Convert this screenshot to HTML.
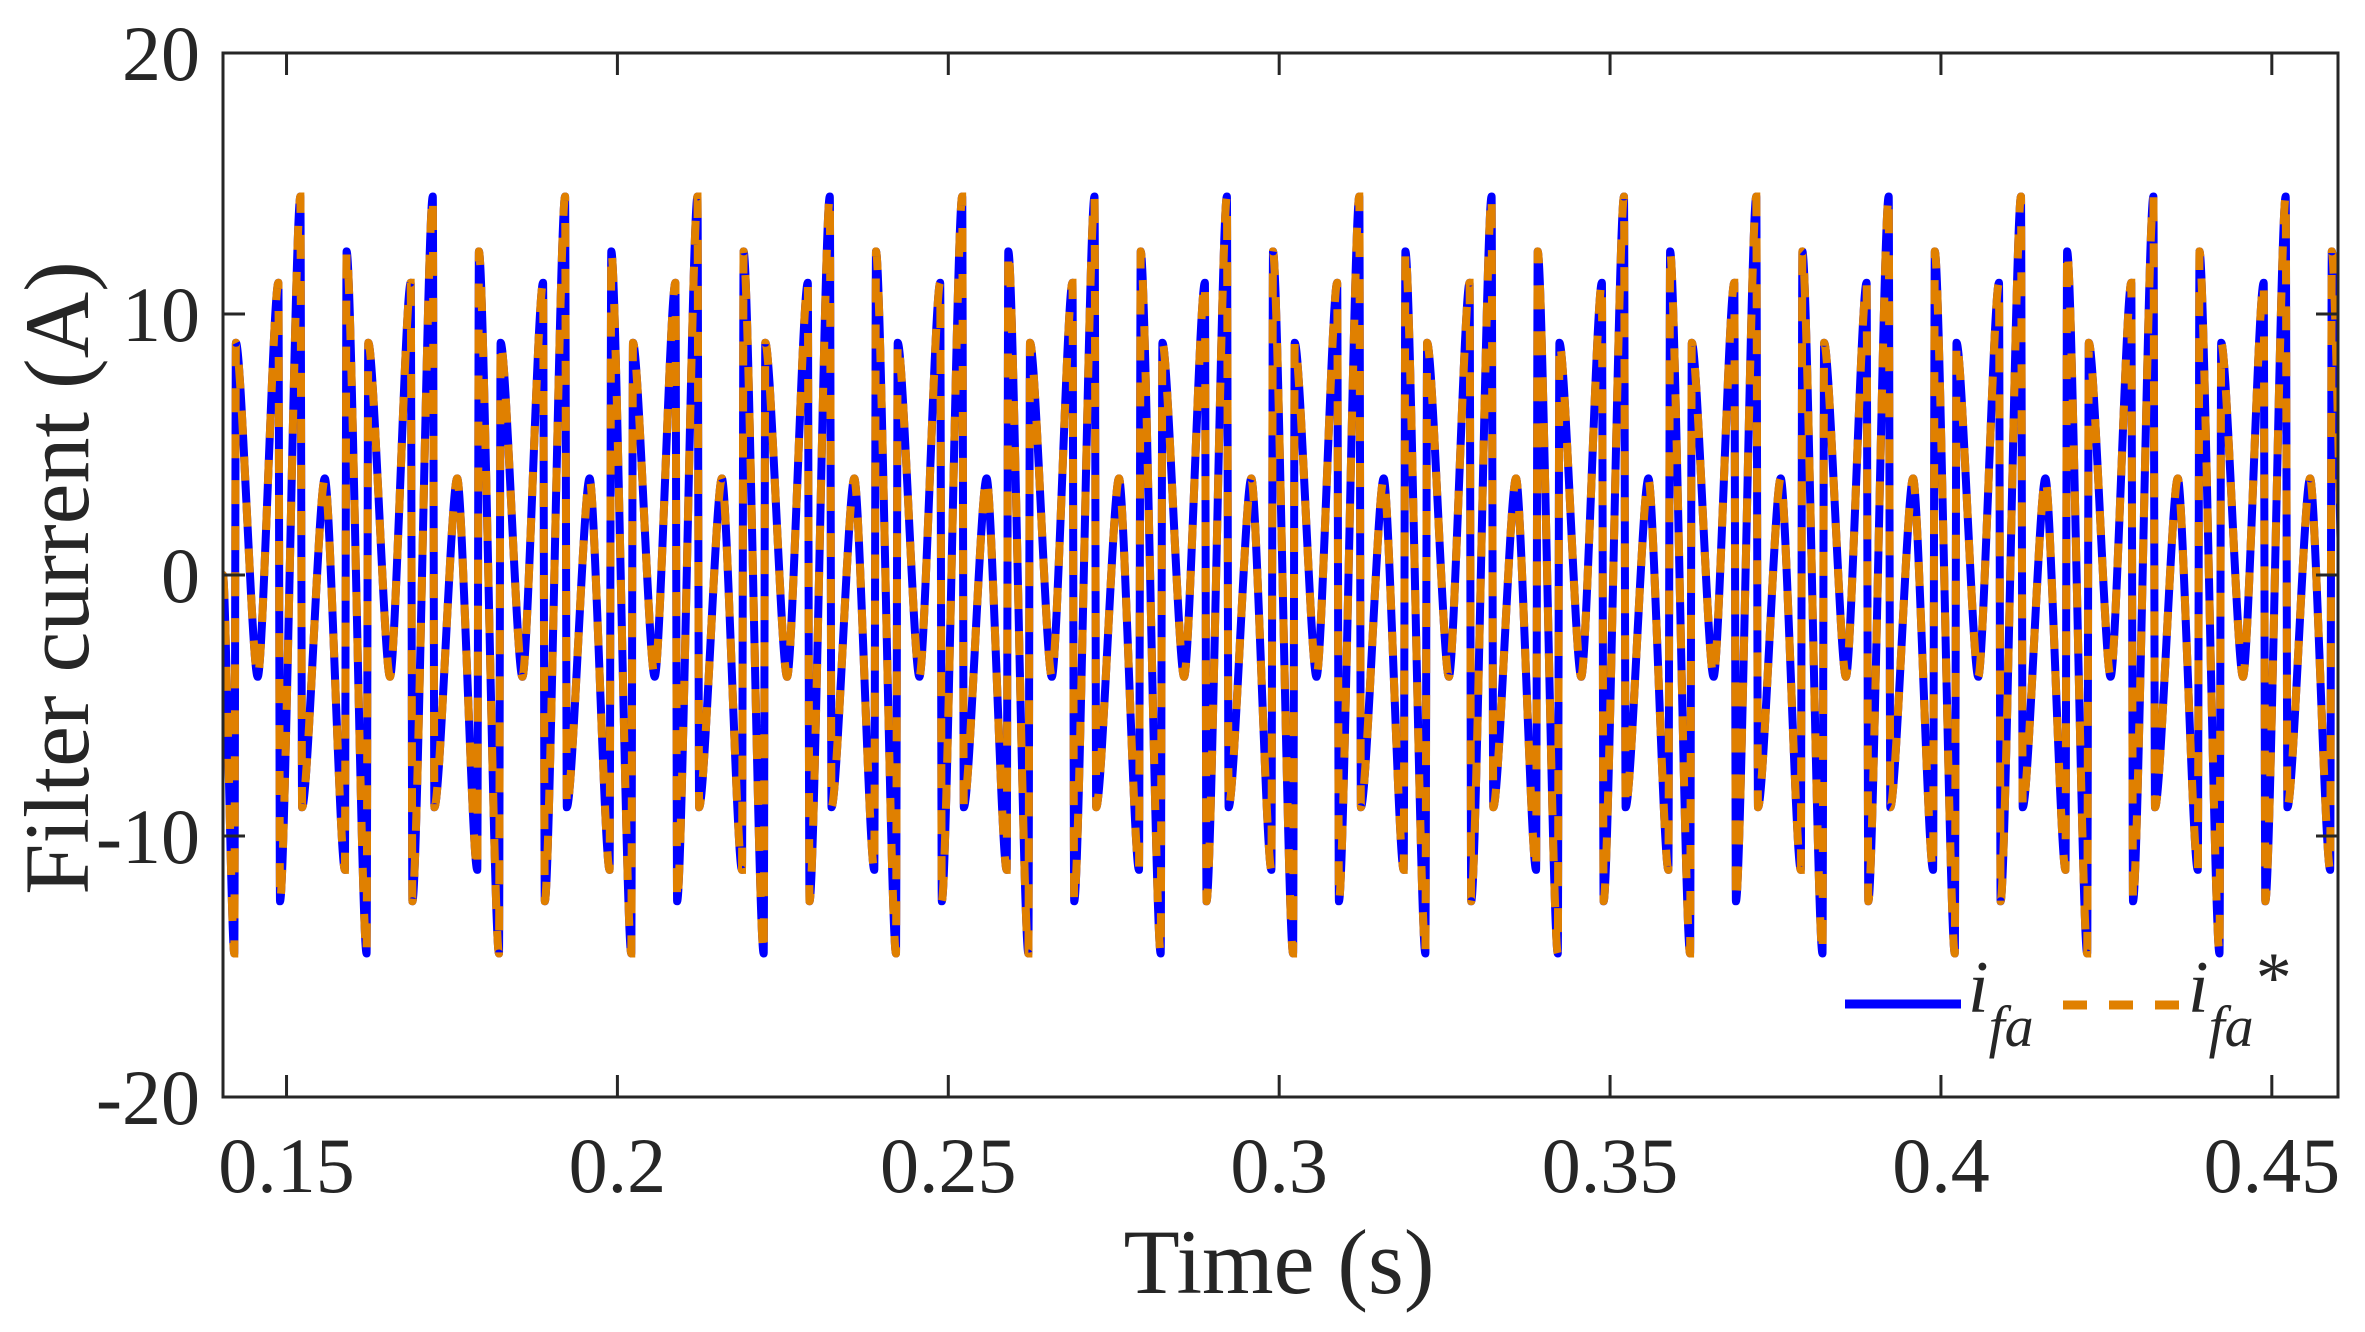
<!DOCTYPE html>
<html><head><meta charset="utf-8"><style>
html,body{margin:0;padding:0;background:#fff;}
svg{display:block;}
text{font-family:"Liberation Serif",serif;fill:#262626;}
</style></head><body>
<svg id="chart" width="2365" height="1332" viewBox="0 0 2365 1332" xmlns="http://www.w3.org/2000/svg">
<g id="plot"></g>
<g id="axes"></g>
<g id="legend">
  <line x1="1845" y1="1004" x2="1961" y2="1004" stroke="#0000ff" stroke-width="9"/>
  <text x="1968" y="1012" font-size="74" font-style="italic" fill="#000">i<tspan font-size="58" dy="34">fa</tspan></text>
  <line x1="2063" y1="1005" x2="2183" y2="1005" stroke="#e08000" stroke-width="9" stroke-dasharray="24,22"/>
  <text x="2188" y="1012" font-size="74" font-style="italic" fill="#000">i<tspan font-size="58" dy="34">fa</tspan><tspan font-style="normal" font-size="72" dy="-44" dx="2">*</tspan></text>
</g>
<text x="1279" y="1293" font-size="92" text-anchor="middle">Time (s)</text>
<text transform="translate(88,578) rotate(-90)" font-size="92" text-anchor="middle">Filter current (A)</text>
</svg>
<script>
// Data
const xTicks = [0.15, 0.2, 0.25, 0.3, 0.35, 0.4, 0.45];
const xTickLabels = ["0.15", "0.2", "0.25", "0.3", "0.35", "0.4", "0.45"];
const yTicks = [20, 10, 0, -10, -20];
const yTickLabels = ["20", "10", "0", "-10", "-20"];
// one 20 ms cycle of extrema: time offset (s) from first peak, value (A)
const cycleOffsets = [0, 0.00025, 0.00369, 0.00672, 0.00697, 0.01, 0.01025, 0.01354, 0.01667, 0.01692];
const cycleValues = [14.5, -8.9, 3.7, -11.3, 12.4, -14.5, 8.9, -3.9, 11.2, -12.5];
const startTime = 0.1404, startValue = 0;
const firstPeak = 0.1521, period = 0.02, endTime = 0.46;

const X0 = 223, X1 = 2338, Y0 = 53, Y1 = 1097;
const xMin = 0.1404, xMax = 0.46, yMin = -20, yMax = 20;
const sx = t => X0 + (t - xMin) / (xMax - xMin) * (X1 - X0);
const sy = v => Y1 - (v - yMin) / (yMax - yMin) * (Y1 - Y0);
const NS = "http://www.w3.org/2000/svg";

const pts = [[startTime, startValue]];
for (let k = -1; k < 20; k++) {
  for (let i = 0; i < cycleOffsets.length; i++) {
    const t = firstPeak + k * period + cycleOffsets[i];
    if (t > startTime && t < endTime + 0.003) pts.push([t, cycleValues[i]]);
  }
}
let d = "";
pts.forEach((p, i) => {
  const x = sx(p[0]), y = sy(p[1]);
  if (i === 0) { d += "M" + x.toFixed(1) + "," + y.toFixed(1); return; }
  const px = sx(pts[i - 1][0]), py = sy(pts[i - 1][1]);
  const dx = (x - px) / 4;
  d += " C" + (px + dx).toFixed(1) + "," + py.toFixed(1) + " " + (x - dx).toFixed(1) + "," + y.toFixed(1) + " " + x.toFixed(1) + "," + y.toFixed(1);
});
const plot = document.getElementById("plot");
const defs = document.createElementNS(NS, "clipPath");
defs.setAttribute("id", "clip");
const cr = document.createElementNS(NS, "rect");
cr.setAttribute("x", X0); cr.setAttribute("y", Y0); cr.setAttribute("width", X1 - X0); cr.setAttribute("height", Y1 - Y0);
defs.appendChild(cr); plot.appendChild(defs);
plot.setAttribute("clip-path", "url(#clip)");
const l1 = document.createElementNS(NS, "path");


l1.setAttribute("d", d); l1.setAttribute("fill", "none"); l1.setAttribute("stroke", "#0000ff"); l1.setAttribute("stroke-width", "8"); l1.setAttribute("stroke-linejoin", "round");
plot.appendChild(l1);
const l2 = document.createElementNS(NS, "path");


l2.setAttribute("d", d); l2.setAttribute("fill", "none"); l2.setAttribute("stroke", "#e08000"); l2.setAttribute("stroke-width", "8"); l2.setAttribute("stroke-dasharray", "24,22");
plot.appendChild(l2);

const axes = document.getElementById("axes");
const box = document.createElementNS(NS, "rect");


box.setAttribute("x", X0); box.setAttribute("y", Y0); box.setAttribute("width", X1 - X0); box.setAttribute("height", Y1 - Y0);
box.setAttribute("fill", "none"); box.setAttribute("stroke", "#262626"); box.setAttribute("stroke-width", "3");
axes.appendChild(box);
function line(x1, y1, x2, y2, name) {
  const l = document.createElementNS(NS, "line");
  
  
  l.setAttribute("x1", x1); l.setAttribute("y1", y1); l.setAttribute("x2", x2); l.setAttribute("y2", y2);
  l.setAttribute("stroke", "#262626"); l.setAttribute("stroke-width", "3");
  axes.appendChild(l);
}
function label(x, y, s, anchor, name) {
  const t = document.createElementNS(NS, "text");
  
  
  t.setAttribute("x", x); t.setAttribute("y", y); t.setAttribute("font-size", "78"); t.setAttribute("text-anchor", anchor);
  t.textContent = s; axes.appendChild(t);
}
xTicks.forEach((v, i) => {
  const x = sx(v);
  line(x, Y1, x, Y1 - 22, "x-tick");
  line(x, Y0, x, Y0 + 22, "x-tick-top");
  label(x, 1192, xTickLabels[i], "middle", "x-tick-label");
});
yTicks.forEach((v, i) => {
  const y = sy(v);
  line(X0, y, X0 + 22, y, "y-tick");
  line(X1, y, X1 - 22, y, "y-tick-right");
  label(200, y + 27, yTickLabels[i], "end", "y-tick-label");
});
</script>
</body></html>
